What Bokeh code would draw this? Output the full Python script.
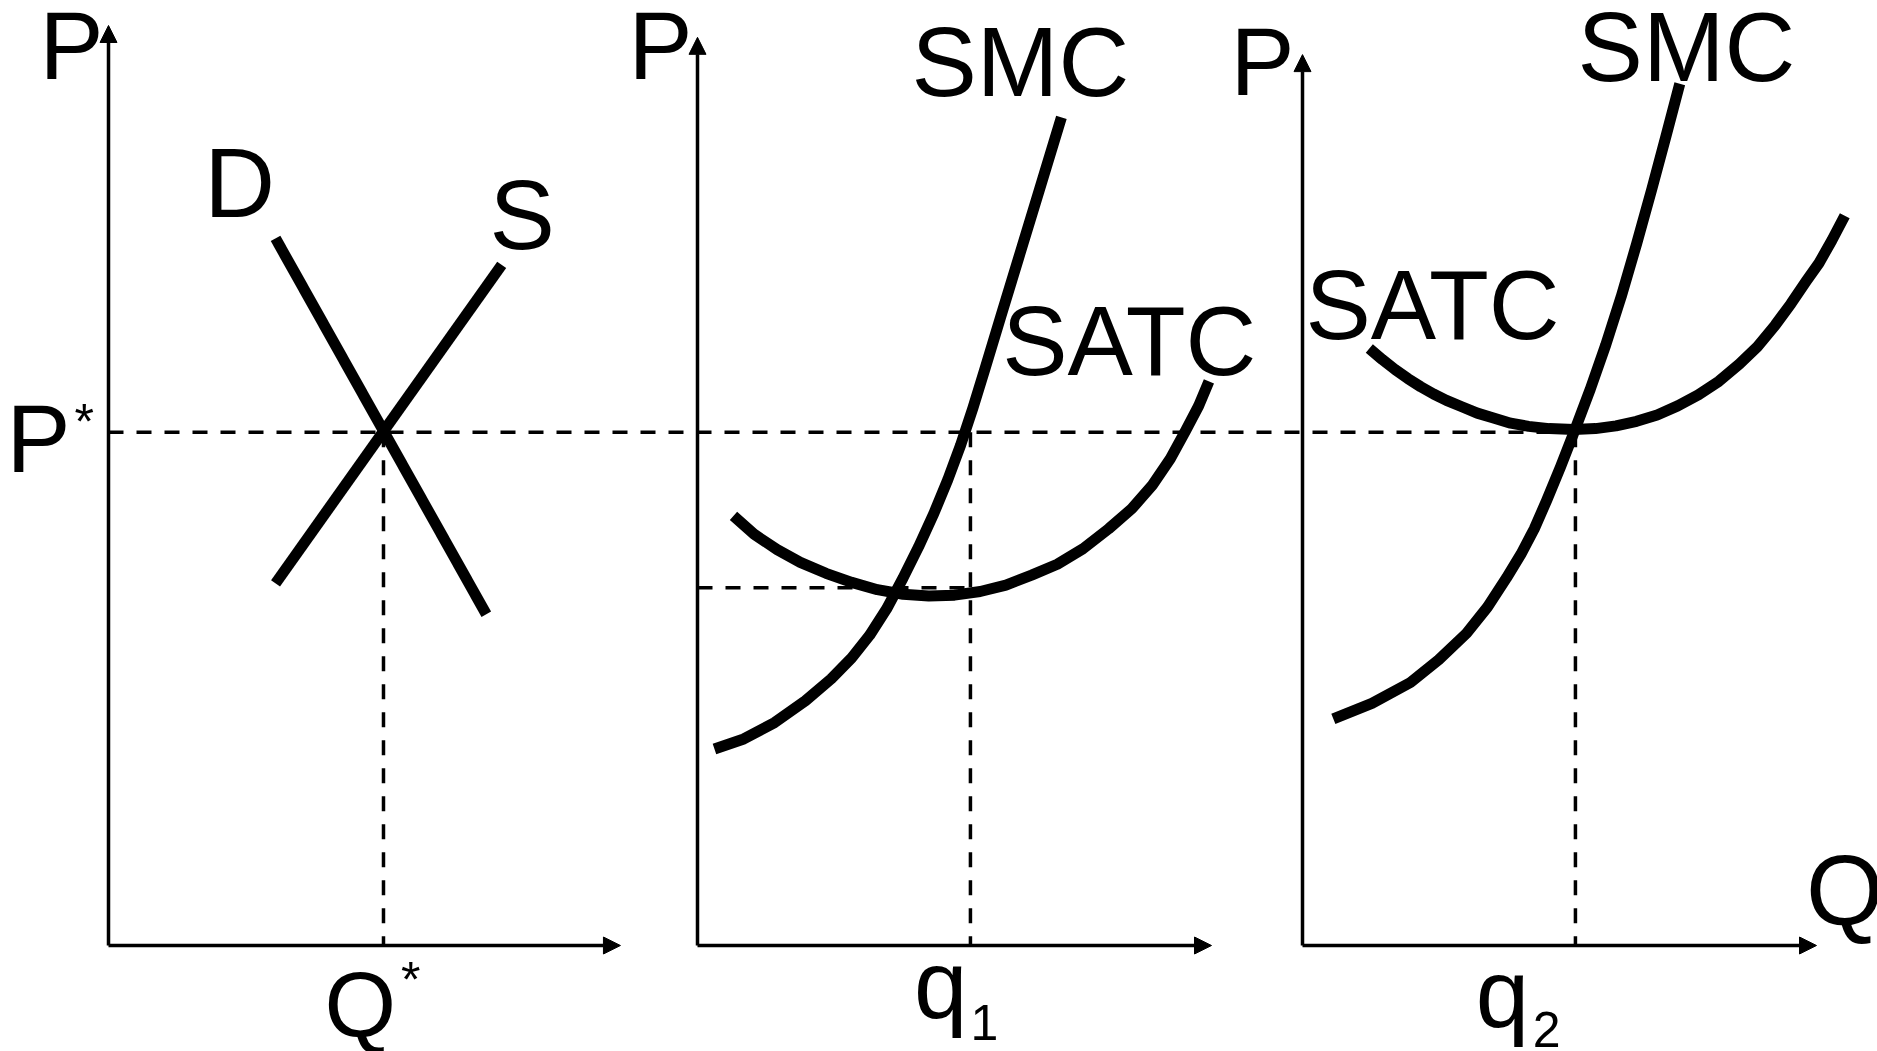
from bokeh.plotting import figure
from bokeh.models import Arrow, NormalHead, Range1d, ColumnDataSource
from bokeh.core.properties import value
from bokeh.embed import file_html
from bokeh.resources import INLINE

# ---------------- data (diagram units: Q 0..100, P 0..100 per panel) ----------------
P_STAR = 56.4          # market price
Q_STAR = 53.5          # market quantity
Q1 = 53.1              # firm output, panel 2
Q2 = 53.1              # firm output, panel 3
P_MIN1 = 39.3          # minimum SATC, panel 2
P_LINE_END3 = 49.0     # where the price line stops in panel 3

# panel 1: market demand and supply
D_Q = [32.5, 73.5]
D_P = [77.7, 36.4]
S_Q = [32.5, 76.5]
S_P = [39.8, 74.8]

# panel 2: firm with profits
SMC1_Q = [3.3, 9.0, 15.0, 21.0, 26.0, 30.0, 33.5, 36.8, 40.0, 43.0, 46.0, 48.7, 51.2, 53.6, 56.0, 59.0, 62.5, 66.5, 70.8]
SMC1_P = [21.6, 22.7, 24.5, 26.9, 29.3, 31.6, 34.1, 37.0, 40.4, 43.8, 47.5, 51.2, 55.0, 59.1, 63.5, 69.1, 75.6, 83.0, 91.0]
SATC1_Q = [7.0, 11.0, 15.5, 20.0, 25.0, 30.0, 35.0, 40.0, 45.0, 50.0, 55.0, 60.0, 65.0, 70.0, 75.0, 80.0, 84.5, 88.5, 92.0, 95.0, 97.5, 99.5]
SATC1_P = [47.2, 45.2, 43.5, 42.1, 40.9, 39.9, 39.1, 38.6, 38.4, 38.5, 38.9, 39.6, 40.7, 41.9, 43.6, 45.8, 48.0, 50.6, 53.5, 56.6, 59.3, 62.0]

# panel 3: firm at break-even
SMC2_Q = [6.0, 13.5, 21.0, 26.5, 31.9, 36.0, 39.7, 42.5, 45.1, 47.5, 50.2, 52.9, 56.0, 59.0, 62.0, 65.0, 68.0, 70.7, 73.4]
SMC2_P = [24.9, 26.6, 28.9, 31.4, 34.3, 37.2, 40.4, 43.0, 45.8, 48.9, 52.6, 56.5, 61.15, 66.0, 71.3, 77.1, 83.2, 88.9, 94.7]
SATC2_Q = [13.0, 15.5, 18.0, 20.5, 23.0, 25.5, 28.0, 31.0, 34.0, 37.0, 40.5, 44.0, 48.0, 52.8, 57.0, 61.0, 65.0, 69.0, 73.0, 77.0, 81.0, 85.0, 88.5, 92.0, 95.0, 98.0, 100.5, 103.0, 105.5]
SATC2_P = [65.6, 64.4, 63.3, 62.3, 61.4, 60.6, 59.9, 59.2, 58.5, 58.0, 57.4, 57.05, 56.8, 56.7, 56.8, 57.1, 57.6, 58.3, 59.3, 60.5, 62.0, 63.9, 65.8, 68.2, 70.5, 73.0, 75.0, 77.5, 80.2]

# axis arrow ends per panel
Q_TIPS = [99.6, 100.0, 100.0]
P_TIPS = [101.1, 99.8, 97.9]

# labels (x, baseline y in each panel's units)
LAB1_TEXT = ["P", "P", "*", "D", "S", "Q", "*"]
LAB1_Q = [-7.2, -13.6, -4.7, 25.5, 80.5, 49.0, 58.8]
LAB1_P = [95.05, 51.9, 55.6, 79.9, 76.4, -10.1, -5.8]
LAB1_SIZE = [96, 96, 50, 98, 98, 92, 50]

LAB2_TEXT = ["P", "SMC", "SATC", "q", "1"]
LAB2_Q = [-7.2, 62.8, 84.0, 47.3, 55.8]
LAB2_P = [95.05, 93.2, 62.5, -8.1, -10.45]
LAB2_SIZE = [96, 98, 98, 96, 50]

LAB3_TEXT = ["P", "SMC", "SATC", "q", "2", "Q"]
LAB3_Q = [-7.8, 74.7, 25.3, 38.9, 47.5, 105.5]
LAB3_P = [93.4, 94.9, 66.5, -9.1, -11.2, 2.1]
LAB3_SIZE = [96, 98, 98, 96, 50, 100]

# ---------------- layout (pixels) ----------------
W, H = 1877, 1051
AXIS_X = [108, 697, 1302]
AXIS_Y = 945
PX_PER_Q = 5.14
PX_PER_P = 9.1
BASELINE_FIX = 0.36     # em shift so that the given y is the glyph baseline

FONT = value("Liberation Sans")
DASH = "15 13"
THICK = 11
THIN = 3.5
RN = ["default", "p2", "p3"]


def xr(i):
    return Range1d((0 - AXIS_X[i]) / PX_PER_Q, (W - AXIS_X[i]) / PX_PER_Q)


p = figure(width=W, height=H, x_range=xr(0),
           y_range=Range1d((AXIS_Y - H) / PX_PER_P, AXIS_Y / PX_PER_P),
           output_backend="svg", toolbar_location=None, min_border=0, title=None,
           x_axis_location=None, y_axis_location=None, outline_line_color=None,
           background_fill_color="white", border_fill_color="white")
p.xgrid.visible = False
p.ygrid.visible = False
p.extra_x_ranges = {"p2": xr(1), "p3": xr(2)}


def add_axes(i):
    for xe, ye in ((0, P_TIPS[i]), (Q_TIPS[i], 0)):
        p.add_layout(Arrow(end=NormalHead(size=17, fill_color="black", line_color="black", line_width=1),
                           x_start=0, y_start=0, x_end=xe, y_end=ye, x_range_name=RN[i],
                           line_width=THIN, line_color="black"))


def add_labels(i, texts, qs, ps, sizes):
    ys = [y + BASELINE_FIX * s / PX_PER_P for y, s in zip(ps, sizes)]
    src = ColumnDataSource(dict(x=qs, y=ys, t=texts, s=[f"{s}px" for s in sizes]))
    p.text(x="x", y="y", text="t", source=src, text_font=FONT, text_font_size="s",
           text_align="center", text_baseline="alphabetic", text_color="black",
           x_range_name=RN[i])


def dashed(i, xs, ys):
    p.line(xs, ys, line_width=THIN, line_color="black", line_dash=DASH, x_range_name=RN[i])


def curve(i, xs, ys):
    p.line(xs, ys, line_width=THICK, line_color="black", line_join="round", x_range_name=RN[i])


# market price line running across all three panels (panel 1 units)
p_end = P_LINE_END3 + (AXIS_X[2] - AXIS_X[0]) / PX_PER_Q
dashed(0, [0, p_end], [P_STAR, P_STAR])

# panel 1
dashed(0, [Q_STAR, Q_STAR], [P_STAR, 0])
curve(0, D_Q, D_P)
curve(0, S_Q, S_P)
add_axes(0)
add_labels(0, LAB1_TEXT, LAB1_Q, LAB1_P, LAB1_SIZE)

# panel 2
dashed(1, [0, Q1], [P_MIN1, P_MIN1])
dashed(1, [Q1, Q1], [P_STAR, 0])
curve(1, SMC1_Q, SMC1_P)
curve(1, SATC1_Q, SATC1_P)
add_axes(1)
add_labels(1, LAB2_TEXT, LAB2_Q, LAB2_P, LAB2_SIZE)

# panel 3
dashed(2, [Q2, Q2], [P_STAR, 0])
curve(2, SMC2_Q, SMC2_P)
curve(2, SATC2_Q, SATC2_P)
add_axes(2)
add_labels(2, LAB3_TEXT, LAB3_Q, LAB3_P, LAB3_SIZE)

open("out.html", "w").write(file_html(p, INLINE))
